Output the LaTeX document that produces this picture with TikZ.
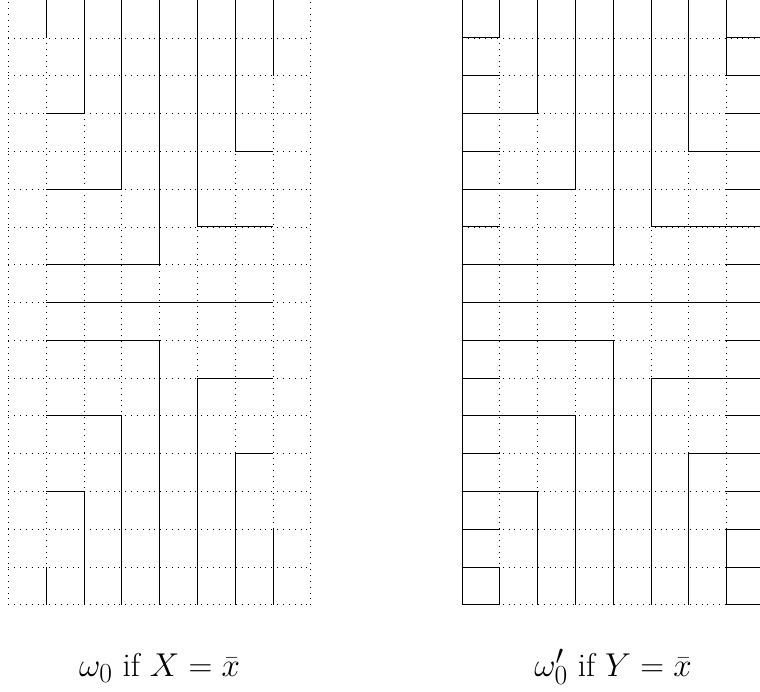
\documentclass[tikz,border=0pt]{standalone}
\begin{document}
\begin{tikzpicture}[
  gridline/.style={loosely dotted, line width=0.4pt},
  wall/.style={line width=0.5pt, line cap=rect},
  lab/.style={anchor=base, inner sep=0pt, font=\Huge}
]
\useasboundingbox (-0.22,-2.288) rectangle (19.888,16);
% dotted lattices
\foreach \ox in {0,12}{
  \foreach \i in {0,...,8} \draw[gridline] (\ox+\i,0) -- (\ox+\i,16);
  \foreach \j in {0,...,15} \draw[gridline] (\ox,\j) -- (\ox+8,\j);
}
% left configuration
\begin{scope}
\draw[wall] (1,16)--(1,15);
\draw[wall] (2,16)--(2,13)--(1,13);
\draw[wall] (3,16)--(3,11)--(1,11);
\draw[wall] (4,16)--(4,9)--(1,9);
\draw[wall] (5,16)--(5,10)--(7,10);
\draw[wall] (6,16)--(6,12)--(7,12);
\draw[wall] (7,16)--(7,14);
\draw[wall] (1,8)--(7,8);
\draw[wall] (1,7)--(4,7)--(4,0);
\draw[wall] (5,0)--(5,6)--(7,6);
\draw[wall] (1,5)--(3,5)--(3,0);
\draw[wall] (6,0)--(6,4)--(7,4);
\draw[wall] (1,3)--(2,3)--(2,0);
\draw[wall] (7,2)--(7,0);
\draw[wall] (1,1)--(1,0);
\end{scope}
% right configuration
\begin{scope}[xshift=12cm]
\draw[wall] (0,0)--(0,16);
\foreach \j in {0,...,15} {
  \draw[wall] (0,\j)--(1,\j);
  \draw[wall] (7,\j)--(8,\j);
}
\draw[wall] (1,16)--(1,15);
\draw[wall] (2,16)--(2,13)--(0,13);
\draw[wall] (3,16)--(3,11)--(0,11);
\draw[wall] (4,16)--(4,9)--(0,9);
\draw[wall] (5,16)--(5,10)--(8,10);
\draw[wall] (6,16)--(6,12)--(8,12);
\draw[wall] (7,16)--(7,14);
\draw[wall] (0,8)--(8,8);
\draw[wall] (0,7)--(4,7)--(4,0);
\draw[wall] (5,0)--(5,6)--(8,6);
\draw[wall] (0,5)--(3,5)--(3,0);
\draw[wall] (6,0)--(6,4)--(8,4);
\draw[wall] (0,3)--(2,3)--(2,0);
\draw[wall] (7,2)--(7,0);
\draw[wall] (1,1)--(1,0);
\end{scope}
% captions
\node[lab] (capL) at (4,-1.89) {$\omega_0$ if $X=\bar x$};
\node[lab] (capR) at (16,-1.89) {$\omega'_0$ if $Y=\bar x$};
\end{tikzpicture}
\end{document}
